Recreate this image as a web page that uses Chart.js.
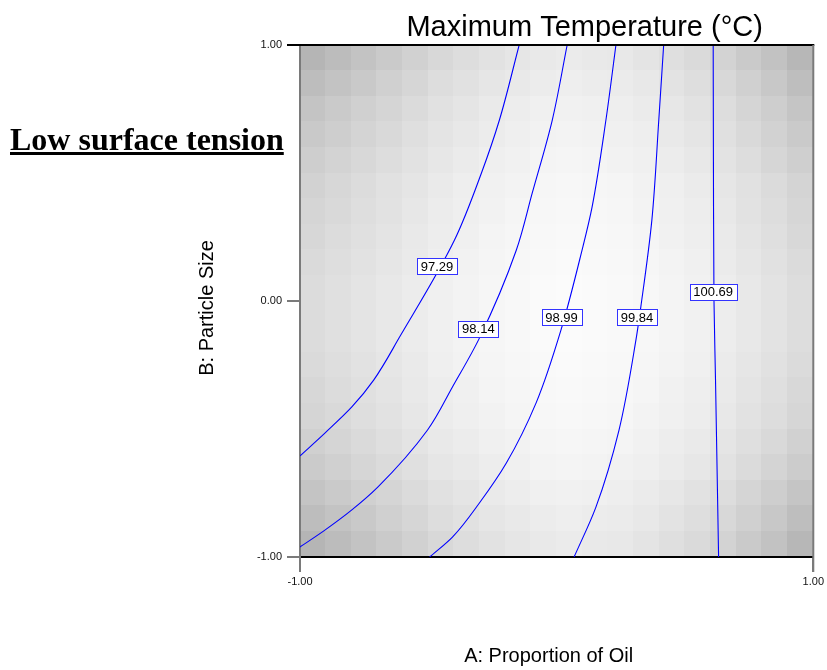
<!DOCTYPE html>
<html>
<head>
<meta charset="utf-8">
<script src="https://cdn.jsdelivr.net/npm/chart.js@4/dist/chart.umd.min.js"></script>
<style>
  html, body { margin: 0; padding: 0; background: #ffffff; }
  #wrap { width: 827px; height: 670px; position: relative; }
</style>
</head>
<body>
<div id="wrap"><canvas id="c" width="827" height="670"></canvas></div>
<script>
// Contour levels of the response surface (Maximum Temperature, °C)
const contourLevels = [97.29, 98.14, 98.99, 99.84, 100.69];

// Contour paths in coded units (A: Proportion of Oil, B: Particle Size)
const c9729X = [-0.146, -0.223, -0.293, -0.398, -0.612, -0.713, -0.798, -0.903, -1.0];
const c9729Y = [1.0, 0.707, 0.5, 0.238, -0.141, -0.309, -0.414, -0.516, -0.605];

const c9814X = [0.041, -0.017, -0.095, -0.157, -0.301, -0.406, -0.503, -0.697, -0.798, -0.903, -1.0];
const c9814Y = [1.0, 0.707, 0.422, 0.199, -0.145, -0.336, -0.504, -0.727, -0.816, -0.895, -0.961];

const c9899X = [0.231, 0.192, 0.138, 0.099, 0.017, -0.080, -0.196, -0.301, -0.406, -0.495];
const c9899Y = [1.0, 0.707, 0.367, 0.199, -0.113, -0.398, -0.633, -0.789, -0.922, -1.0];

const c9984X = [0.417, 0.398, 0.371, 0.328, 0.309, 0.243, 0.153, 0.068];
const c9984Y = [1.0, 0.707, 0.316, -0.023, -0.152, -0.504, -0.805, -1.0];

const c10069X = [0.610, 0.611, 0.613, 0.619, 0.631];
const c10069Y = [1.0, 0.5, 0.004, -0.309, -1.0];

// Where each contour carries its value label
const labelX = [-0.466, -0.305, 0.019, 0.313, 0.610];
const labelY = [0.137, -0.109, -0.0625, -0.0625, 0.037];

// Axis ticks
const xTicks = [-1, 1];
const yTicks = [-1, 0, 1];

// Background grid: 20 x 20 cells, darkening per column (left to right) and per row (top to bottom)
const colShade = [31, 27, 23, 19, 15, 11, 8, 5, 3, 1, 0, 1, 2, 4, 7, 10, 14, 19, 24, 30];
const rowShade = [16, 13, 10, 8, 6, 4, 3, 2, 1, 0, 0, 0, 1, 2, 3, 5, 7, 10, 13, 16];

const paths = [
  [c9729X, c9729Y],
  [c9814X, c9814Y],
  [c9899X, c9899Y],
  [c9984X, c9984Y],
  [c10069X, c10069Y]
];

// each contour runs monotonically down the B axis, so it is splined along y
const datasets = paths.map((p, k) => ({
  label: contourLevels[k].toFixed(2),
  data: p[0].map((x, i) => ({ x: x, y: p[1][i] })),
  indexAxis: 'y',
  showLine: true,
  borderColor: '#0000ff',
  borderWidth: 1.1,
  pointRadius: 0,
  pointHoverRadius: 0,
  tension: 0.4,
  cubicInterpolationMode: 'monotone',
  fill: false
}));

const shadingPlugin = {
  id: 'shading',
  beforeDraw(chart) {
    const ctx = chart.ctx;
    const xs = chart.scales.x, ys = chart.scales.y;
    const n = colShade.length, m = rowShade.length;
    for (let i = 0; i < n; i++) {
      const x0 = xs.getPixelForValue(-1 + 2 * i / n);
      const x1 = xs.getPixelForValue(-1 + 2 * (i + 1) / n);
      for (let j = 0; j < m; j++) {
        const y0 = ys.getPixelForValue(1 - 2 * j / m);
        const y1 = ys.getPixelForValue(1 - 2 * (j + 1) / m);
        const c = colShade[i], r = rowShade[j];
        const g = Math.round(251 - c - r - c * r / 22);
        ctx.fillStyle = 'rgb(' + g + ',' + g + ',' + g + ')';
        ctx.fillRect(Math.floor(x0), Math.floor(y0), Math.ceil(x1) - Math.floor(x0), Math.ceil(y1) - Math.floor(y0));
      }
    }
  }
};

const decorPlugin = {
  id: 'decor',
  afterDatasetsDraw(chart) {
    const ctx = chart.ctx;
    const a = chart.chartArea;
    const xs = chart.scales.x, ys = chart.scales.y;
    ctx.save();
    // frame: top and right edges
    ctx.strokeStyle = '#000000';
    ctx.lineWidth = 2;
    ctx.beginPath();
    ctx.moveTo(a.left - 13, a.top);
    ctx.lineTo(a.right + 1, a.top);
    ctx.stroke();
    ctx.strokeStyle = '#7a7a7a';
    ctx.beginPath();
    ctx.moveTo(a.right, a.top);
    ctx.lineTo(a.right, a.bottom + 15);
    ctx.stroke();

    // contour value labels
    ctx.font = '13px "Liberation Sans", Arial, sans-serif';
    ctx.textAlign = 'center';
    ctx.textBaseline = 'middle';
    for (let k = 0; k < contourLevels.length; k++) {
      const txt = contourLevels[k].toFixed(2);
      const px = xs.getPixelForValue(labelX[k]);
      const py = ys.getPixelForValue(labelY[k]);
      const w = Math.round(ctx.measureText(txt).width + 7);
      const h = 16;
      const bx = Math.round(px - w / 2) + 0.5, by = Math.round(py - h / 2) + 0.5;
      ctx.fillStyle = '#ffffff';
      ctx.fillRect(bx, by, w, h);
      ctx.strokeStyle = '#3333ff';
      ctx.lineWidth = 1;
      ctx.strokeRect(bx, by, w, h);
      ctx.fillStyle = '#000000';
      ctx.fillText(txt, px, py + 1);
    }

    // chart title
    ctx.fillStyle = '#000000';
    ctx.textAlign = 'center';
    ctx.textBaseline = 'alphabetic';
    ctx.font = '29px "Liberation Sans", Arial, sans-serif';
    ctx.fillText('Maximum Temperature (°C)', (a.left + a.right) / 2 + 28, a.top - 9);

    // axis titles
    ctx.font = '20px "Liberation Sans", Arial, sans-serif';
    ctx.fillText('A: Proportion of Oil', (a.left + a.right) / 2 - 8, a.bottom + 105);
    ctx.save();
    ctx.translate(a.left - 87, (a.top + a.bottom) / 2 + 7);
    ctx.rotate(-Math.PI / 2);
    ctx.fillText('B: Particle Size', 0, 0);
    ctx.restore();

    // side heading
    ctx.textAlign = 'left';
    ctx.font = 'bold 32px "Liberation Serif", "Times New Roman", serif';
    const head = 'Low surface tension';
    ctx.fillText(head, 10, 150);
    const hw = ctx.measureText(head).width;
    ctx.fillRect(10, 152, hw, 3);
    ctx.restore();
  }
};

new Chart(document.getElementById('c'), {
  type: 'scatter',
  data: { datasets: datasets },
  options: {
    responsive: false,
    animation: false,
    devicePixelRatio: 1,
    events: [],
    layout: { padding: { left: 0, top: 45, right: 12, bottom: 0 } },
    plugins: {
      legend: { display: false },
      title: { display: false },
      tooltip: { enabled: false }
    },
    scales: {
      x: {
        type: 'linear',
        min: -1,
        max: 1,
        afterBuildTicks: s => { s.ticks = xTicks.map(v => ({ value: v })); },
        afterFit: s => { s.height = 113; },
        grid: { drawOnChartArea: false, drawTicks: true, tickLength: 15, color: '#7a7a7a', lineWidth: 2 },
        border: { color: '#000000', width: 2 },
        ticks: {
          padding: 3,
          color: '#111111',
          font: { family: '"Liberation Sans", Arial, sans-serif', size: 11 },
          maxRotation: 0,
          callback: v => v.toFixed(2)
        }
      },
      y: {
        type: 'linear',
        min: -1,
        max: 1,
        afterBuildTicks: s => { s.ticks = yTicks.map(v => ({ value: v })); },
        afterFit: s => { s.width = 300; },
        grid: { drawOnChartArea: false, drawTicks: true, tickLength: 13, color: '#7a7a7a', lineWidth: 2 },
        border: { color: '#7a7a7a', width: 2 },
        ticks: {
          padding: 5,
          color: '#111111',
          font: { family: '"Liberation Sans", Arial, sans-serif', size: 11 },
          callback: v => v.toFixed(2)
        }
      }
    }
  },
  plugins: [shadingPlugin, decorPlugin]
});
</script>
</body>
</html>
